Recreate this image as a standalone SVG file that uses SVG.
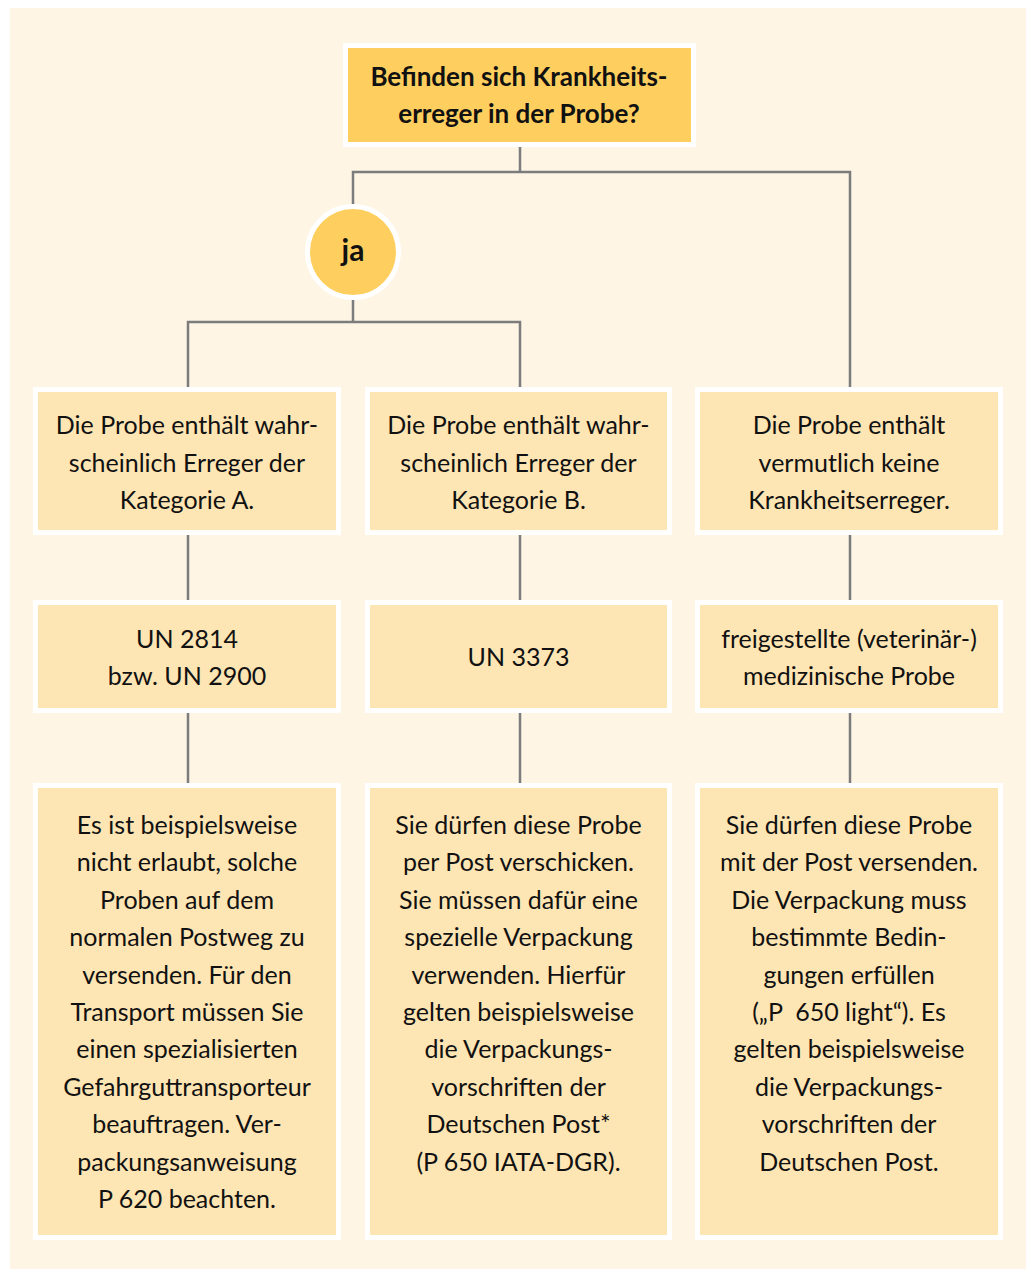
<svg xmlns="http://www.w3.org/2000/svg" width="1026" height="1269" viewBox="0 0 1026 1269">
<style>
.bg{fill:#fef5e4}
.box{fill:#fee5b4;stroke:#ffffff;stroke-width:5}
.hl{fill:#fecf5f;stroke:#ffffff;stroke-width:5}
.t{font-family:Lato,"Open Sans","Liberation Sans",sans-serif;font-size:25px;fill:#111;text-anchor:middle}
.b{font-weight:bold;font-size:26px}
.ln{fill:none;stroke:#7c7c7c;stroke-width:2.5}
</style>
<rect class="bg" x="10" y="8" width="1016" height="1261"/>
<g id="connectors">
<path class="ln" d="M520 147V172M353 205V172H850V387"/>
<path class="ln" d="M353 297V322M188 387V322H520V387"/>
<path class="ln" d="M188 535V600M520 535V600M850 535V600"/>
<path class="ln" d="M188 712V783M520 712V783M850 712V783"/>
</g>
<g id="question">
<rect class="hl" x="345.5" y="45.5" width="348" height="99"/>
<text class="t b" x="519" y="86">Befinden sich Krankheits-</text>
<text class="t b" x="519" y="123">erreger in der Probe?</text>
</g>
<g id="ja">
<circle class="hl" cx="353" cy="252" r="45.5"/>
<text class="t b" x="353" y="261" style="font-size:30px">ja</text>
</g>
<g id="katA">
<rect class="box" x="35.5" y="389.5" width="303" height="143"/>
<text class="t" x="187" y="434">Die Probe enthält wahr-</text>
<text class="t" x="187" y="471.5">scheinlich Erreger der</text>
<text class="t" x="187" y="509">Kategorie A.</text>
</g>
<g id="katB">
<rect class="box" x="367.5" y="389.5" width="302" height="143"/>
<text class="t" x="518.5" y="434">Die Probe enthält wahr-</text>
<text class="t" x="518.5" y="471.5">scheinlich Erreger der</text>
<text class="t" x="518.5" y="509">Kategorie B.</text>
</g>
<g id="keine">
<rect class="box" x="697.5" y="389.5" width="303" height="143"/>
<text class="t" x="849" y="434">Die Probe enthält</text>
<text class="t" x="849" y="471.5">vermutlich keine</text>
<text class="t" x="849" y="509">Krankheitserreger.</text>
</g>
<g id="un2814">
<rect class="box" x="35.5" y="602.5" width="303" height="108"/>
<text class="t" x="187" y="648">UN 2814</text>
<text class="t" x="187" y="685">bzw. UN 2900</text>
</g>
<g id="un3373">
<rect class="box" x="367.5" y="602.5" width="302" height="108"/>
<text class="t" x="518.5" y="666">UN 3373</text>
</g>
<g id="freigestellt">
<rect class="box" x="697.5" y="602.5" width="303" height="108"/>
<text class="t" x="849" y="648">freigestellte (veterinär-)</text>
<text class="t" x="849" y="685">medizinische Probe</text>
</g>
<g id="textA">
<rect class="box" x="35.5" y="785.5" width="303" height="452"/>
<text class="t" x="187" y="834">Es ist beispielsweise</text>
<text class="t" x="187" y="871.4">nicht erlaubt, solche</text>
<text class="t" x="187" y="908.8">Proben auf dem</text>
<text class="t" x="187" y="946.2">normalen Postweg zu</text>
<text class="t" x="187" y="983.6">versenden. Für den</text>
<text class="t" x="187" y="1021">Transport müssen Sie</text>
<text class="t" x="187" y="1058.4">einen spezialisierten</text>
<text class="t" x="187" y="1095.8">Gefahrguttransporteur</text>
<text class="t" x="187" y="1133.2">beauftragen. Ver-</text>
<text class="t" x="187" y="1170.6">packungsanweisung</text>
<text class="t" x="187" y="1208">P 620 beachten.</text>
</g>
<g id="textB">
<rect class="box" x="367.5" y="785.5" width="302" height="452"/>
<text class="t" x="518.5" y="834">Sie dürfen diese Probe</text>
<text class="t" x="518.5" y="871.4">per Post verschicken.</text>
<text class="t" x="518.5" y="908.8">Sie müssen dafür eine</text>
<text class="t" x="518.5" y="946.2">spezielle Verpackung</text>
<text class="t" x="518.5" y="983.6">verwenden. Hierfür</text>
<text class="t" x="518.5" y="1021">gelten beispielsweise</text>
<text class="t" x="518.5" y="1058.4">die Verpackungs-</text>
<text class="t" x="518.5" y="1095.8">vorschriften der</text>
<text class="t" x="518.5" y="1133.2">Deutschen Post*</text>
<text class="t" x="518.5" y="1170.6">(P 650 IATA-DGR).</text>
</g>
<g id="textC">
<rect class="box" x="697.5" y="785.5" width="303" height="452"/>
<text class="t" x="849" y="834">Sie dürfen diese Probe</text>
<text class="t" x="849" y="871.4">mit der Post versenden.</text>
<text class="t" x="849" y="908.8">Die Verpackung muss</text>
<text class="t" x="849" y="946.2">bestimmte Bedin-</text>
<text class="t" x="849" y="983.6">gungen erfüllen</text>
<text class="t" x="849" y="1021">(„P&#160; 650 light“). Es</text>
<text class="t" x="849" y="1058.4">gelten beispielsweise</text>
<text class="t" x="849" y="1095.8">die Verpackungs-</text>
<text class="t" x="849" y="1133.2">vorschriften der</text>
<text class="t" x="849" y="1170.6">Deutschen Post.</text>
</g>
</svg>
